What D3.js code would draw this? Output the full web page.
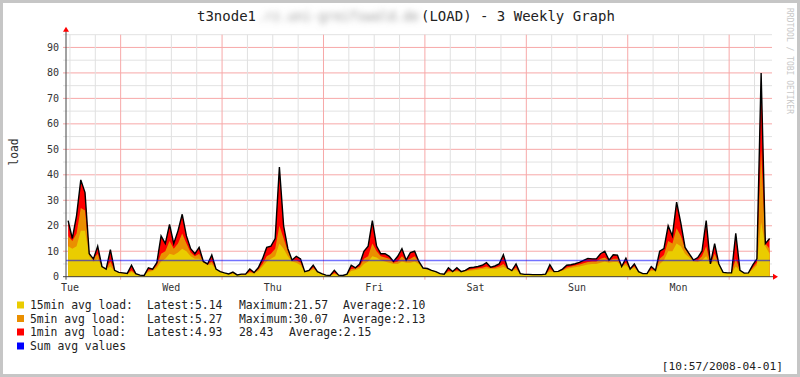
<!DOCTYPE html>
<html>
<head>
<meta charset="utf-8">
<script src="https://cdn.jsdelivr.net/npm/d3@7/dist/d3.min.js"></script>
<style>
  html, body { margin: 0; padding: 0; background: #fff; }
  svg { display: block; }
</style>
</head>
<body>
<svg id="chart" width="800" height="377"></svg>
<script>
// ---- data (hourly samples, first sample = Tue 25 Mar 2008 11:04) ----
const titleParts = ["t3node1", ".rz.uni-greifswald.de", "(LOAD) - 3 Weekly Graph"];
const startTime = new Date(2008, 2, 25, 11, 4);
const spanHours = 166.6;

const load1 = [
  22, 15, 24, 38, 33, 9, 7, 12, 4, 3,
  10.6, 2.5, 1.7, 1.5, 1.3, 4.5, 1.2, 0.6, 0.5, 3.5,
  3, 5.5, 16, 13, 20.5, 13, 18, 24.5, 16, 11,
  9, 11.5, 6, 5, 8.5, 3, 2, 1.5, 1.1, 1.8,
  0.7, 1, 1, 3, 1.6, 3.5, 7, 11.5, 12, 15,
  43, 20, 11, 6.5, 8, 7, 2, 2.5, 4.5, 2,
  1.2, 0.6, 0.5, 2.5, 0.6, 0.5, 1, 4.5, 3.5, 5,
  10, 12, 22, 12, 9, 9, 8, 6, 8, 11,
  6.5, 9.5, 10, 6, 3.4, 3.2, 2.5, 2, 1.2, 1,
  3.5, 2, 3.5, 2, 2.5, 3.5, 3.7, 4, 4.5, 5.5,
  3.7, 4.2, 5, 8.6, 3.4, 2.4, 5, 1.2, 0.9, 0.9,
  0.8, 0.8, 0.8, 1, 4.7, 2, 2.1, 3, 4.5, 4.7,
  5.1, 5.6, 6.4, 7.2, 7, 7, 9, 10, 6.5, 8.6,
  8.5, 4, 7.3, 3, 5, 2, 1.2, 1.2, 4, 2.5,
  10, 11, 20, 16, 29.3, 21, 11.5, 9, 6.5, 7.5,
  10, 22, 5, 13, 5, 1.7, 1.5, 1.5, 17, 2.5,
  1.4, 1.5, 4.5, 7, 80, 13, 15
];
const load5 = [
  16, 14, 17, 27, 26, 9, 7, 9, 4, 3,
  6, 2.5, 1.6, 1.4, 1.2, 2.5, 1.1, 0.6, 0.5, 2.5,
  2.6, 4.5, 9, 10, 14, 11, 13, 17, 13, 9.5,
  8, 9, 6, 4.8, 6, 3, 2, 1.5, 1.1, 1.5,
  0.7, 0.9, 0.9, 2, 1.5, 2.8, 5, 8, 9, 11,
  20, 15, 10, 6.5, 6.5, 5.5, 2, 2.2, 3.5, 2,
  1.2, 0.6, 0.5, 1.5, 0.6, 0.5, 0.9, 3, 3.2, 4,
  7, 8, 13, 10, 8, 7.5, 7, 5.5, 6, 8,
  6.5, 7, 8, 6, 3.4, 3, 2.4, 2, 1.2, 1,
  2.2, 2, 2.5, 2, 2.2, 2.8, 3, 3.3, 3.5, 4,
  3.4, 3.5, 4, 5, 3.2, 2.4, 3.5, 1.2, 0.9, 0.9,
  0.8, 0.8, 0.8, 1, 3, 2, 2, 2.6, 3.6, 4,
  4.4, 4.8, 5.3, 5.8, 6, 6, 7, 7.5, 6.3, 7,
  7, 4, 5.5, 3, 4, 2, 1.2, 1.2, 3, 2.4,
  7, 8.5, 14, 13, 19, 16, 11, 8.5, 6.5, 6.5,
  8, 12, 5, 9, 5, 1.7, 1.5, 1.5, 7, 2.5,
  1.4, 1.5, 3.5, 5.5, 50, 13, 11
];
const load15 = [
  12, 11, 12, 18, 18, 8, 6, 7, 4, 2.8,
  4, 2.2, 1.5, 1.3, 1.1, 1.8, 1, 0.6, 0.5, 1.8,
  2.2, 3.5, 6, 7, 9, 8.5, 9.5, 11, 10, 8,
  7, 7, 5.5, 4.5, 4.8, 3, 2, 1.5, 1.1, 1.3,
  0.7, 0.8, 0.8, 1.5, 1.3, 2.2, 4, 6, 7, 8,
  13, 11, 8, 6, 5.5, 4.5, 2, 2, 2.8, 1.8,
  1.2, 0.6, 0.5, 1, 0.6, 0.5, 0.8, 2.2, 2.6, 3.2,
  5, 6, 8, 7.5, 6.5, 6, 5.5, 5, 5, 6,
  5.5, 5.5, 6, 5, 3.2, 2.8, 2.3, 1.9, 1.2, 1,
  1.6, 1.8, 2, 1.8, 2, 2.3, 2.5, 2.7, 3, 3.2,
  3, 3, 3.3, 3.8, 3, 2.3, 2.6, 1.2, 0.9, 0.9,
  0.8, 0.8, 0.8, 1, 2, 1.8, 1.9, 2.3, 3, 3.4,
  3.7, 4, 4.4, 4.8, 5, 5, 5.5, 6, 5.5, 5.8,
  5.8, 4, 4.5, 3, 3.3, 2, 1.2, 1.2, 2.3, 2.2,
  5, 6.5, 10, 10, 13, 12, 9, 7.5, 6, 5.8,
  6.5, 8, 5, 6.5, 4.5, 1.7, 1.5, 1.5, 4, 2.3,
  1.4, 1.5, 2.8, 4.5, 21.5, 12, 9
];
const sumAvgValue = 6.38;

const yTicks = [0, 10, 20, 30, 40, 50, 60, 70, 80, 90];
const dayLabels = ["Tue", "Wed", "Thu", "Fri", "Sat", "Sun", "Mon"];

const legendLabels = ["15min avg load:", "5min avg load:", "1min avg load:", "Sum avg values"];
const legendStats = [
  ["Latest:5.14", "Maximum:21.57", "Average:2.10"],
  ["Latest:5.27", "Maximum:30.07", "Average:2.13"],
  ["Latest:4.93", "28.43", "Average:2.15"],
  []
];
const legendColors = ["#EACC00", "#EA8F00", "#FF0000", "#0000FF"];
const timeStamp = "[10:57/2008-04-01]";
const watermark = "RRDTOOL / TOBI OETIKER";

// ---- drawing ----
const svg = d3.select("#chart");
const mono = "'DejaVu Sans Mono', monospace";

svg.append("rect").attr("x", 0).attr("y", 0).attr("width", 800).attr("height", 377).attr("fill", "#fff");
svg.append("rect")
  .attr("x", 1.5).attr("y", 1.5).attr("width", 797).attr("height", 374)
  .attr("fill", "none").attr("stroke", "#c6c6c6").attr("stroke-width", 3);

const plot = { left: 66, right: 770, top: 34.7, bottom: 276.7 };
const endTime = d3.timeMinute.offset(startTime, Math.round(spanHours * 60));

const x = d3.scaleTime().domain([startTime, endTime]).range([plot.left, plot.right]);
const y = d3.scaleLinear().domain([0, 95]).range([plot.bottom, plot.top]);

// grid
const grid = svg.append("g");
d3.range(5, 96, 5).forEach(v => {
  grid.append("line")
    .attr("x1", plot.left - 3).attr("x2", plot.right + 2)
    .attr("y1", y(v)).attr("y2", y(v))
    .attr("stroke", v % 10 === 0 ? "#f7a8a8" : "#e2e2e2").attr("stroke-width", 1);
});
const sixHours = d3.timeHour.every(6).range(startTime, endTime);
sixHours.forEach(t => {
  const major = t.getHours() === 0;
  grid.append("line")
    .attr("x1", x(t)).attr("x2", x(t))
    .attr("y1", plot.top).attr("y2", plot.bottom + (major ? 3 : 0))
    .attr("stroke", major ? "#f7a8a8" : "#e0e0e0").attr("stroke-width", 1);
});

// series
const pts = arr => arr.map((v, i) => ({ t: d3.timeMinute.offset(startTime, Math.round((i + 0.5) * 60)), v }));
const area = d3.area().x(d => x(d.t)).y0(y(0)).y1(d => y(d.v)).curve(d3.curveLinear);
const line = d3.line().x(d => x(d.t)).y(d => y(d.v)).curve(d3.curveLinear);

svg.append("path").datum(pts(load1)).attr("d", area).attr("fill", "#FF0000");
svg.append("path").datum(pts(load5)).attr("d", area).attr("fill", "#EA8F00");
svg.append("path").datum(pts(load15)).attr("d", area).attr("fill", "#EACC00");
svg.append("path").datum(pts(load1)).attr("d", line)
  .attr("fill", "none").attr("stroke", "#000").attr("stroke-width", 1.4);

svg.append("line")
  .attr("x1", plot.left).attr("x2", plot.right)
  .attr("y1", y(sumAvgValue)).attr("y2", y(sumAvgValue))
  .attr("stroke", "#0000FF").attr("stroke-opacity", 0.55).attr("stroke-width", 1.6);

// axes
svg.append("line").attr("x1", plot.left - 3).attr("x2", plot.right + 4)
  .attr("y1", plot.bottom).attr("y2", plot.bottom).attr("stroke", "#444").attr("stroke-width", 1);
svg.append("line").attr("x1", plot.left).attr("x2", plot.left)
  .attr("y1", plot.bottom + 3).attr("y2", plot.top - 4).attr("stroke", "#444").attr("stroke-width", 1);
svg.append("path")
  .attr("d", `M${plot.left - 3},${plot.top - 3}L${plot.left + 3},${plot.top - 3}L${plot.left},${plot.top - 8}Z`)
  .attr("fill", "#FF0000");
svg.append("path")
  .attr("d", `M${plot.right + 3},${plot.bottom - 3}L${plot.right + 3},${plot.bottom + 3}L${plot.right + 8},${plot.bottom}Z`)
  .attr("fill", "#FF0000");

// y tick labels
svg.append("g").selectAll("text").data(yTicks).join("text")
  .attr("x", 59).attr("y", d => y(d) + 3.5)
  .attr("text-anchor", "end")
  .attr("font-family", mono).attr("font-size", "10px").attr("fill", "#333")
  .text(d => d);

// day labels at noon
const noons = d3.timeDay.range(d3.timeDay.floor(startTime), endTime)
  .map(d => d3.timeHour.offset(d, 12));
svg.append("g").selectAll("text").data(noons).join("text")
  .attr("x", d => x(d)).attr("y", 291)
  .attr("text-anchor", "middle")
  .attr("font-family", mono).attr("font-size", "10px").attr("fill", "#333")
  .text((d, i) => dayLabels[i]);

// y axis title
svg.append("text")
  .attr("transform", "translate(18,152) rotate(-90)")
  .attr("text-anchor", "middle")
  .attr("font-family", mono).attr("font-size", "11.4px").attr("fill", "#333")
  .text("load");

// title (host part is blurred, as in the original)
const defs = svg.append("defs");
defs.append("filter").attr("id", "blur").attr("x", "-10%").attr("y", "-80%").attr("width", "120%").attr("height", "260%")
  .append("feGaussianBlur").attr("stdDeviation", 3);
const titleY = 21;
svg.append("text").attr("x", 197).attr("y", titleY)
  .attr("font-family", mono).attr("font-size", "14px").attr("fill", "#222")
  .text(titleParts[0]);
svg.append("text").attr("x", 257).attr("y", titleY)
  .attr("textLength", 162).attr("lengthAdjust", "spacingAndGlyphs")
  .attr("font-family", mono).attr("font-size", "14px").attr("fill", "#999")
  .attr("filter", "url(#blur)")
  .text(titleParts[1]);
svg.append("text").attr("x", 421).attr("y", titleY)
  .attr("font-family", mono).attr("font-size", "14px").attr("fill", "#222")
  .text(titleParts[2]);

// watermark on the right
svg.append("text")
  .attr("transform", "translate(787,8) rotate(90)")
  .attr("font-family", mono).attr("font-size", "8px").attr("fill", "#c8c8c8")
  .text(watermark);

// legend
const rowY = [305, 318.5, 332, 346];
const statX = [[147, 239, 343], [147, 239, 343], [147, 239, 289], []];
const legend = svg.append("g");
legendLabels.forEach((lab, i) => {
  legend.append("rect")
    .attr("x", 17).attr("y", rowY[i] - 3.5).attr("width", 7).attr("height", 7)
    .attr("fill", legendColors[i]);
  legend.append("text")
    .attr("x", 30).attr("y", rowY[i] + 4)
    .attr("font-family", mono).attr("font-size", "11.4px").attr("fill", "#222")
    .text(lab);
  legendStats[i].forEach((s, j) => {
    legend.append("text")
      .attr("x", statX[i][j]).attr("y", rowY[i] + 4)
      .attr("font-family", mono).attr("font-size", "11.4px").attr("fill", "#222")
      .text(s);
  });
});

svg.append("text")
  .attr("x", 783).attr("y", 370)
  .attr("text-anchor", "end")
  .attr("font-family", mono).attr("font-size", "11.2px").attr("fill", "#222")
  .text(timeStamp);
</script>
</body>
</html>
